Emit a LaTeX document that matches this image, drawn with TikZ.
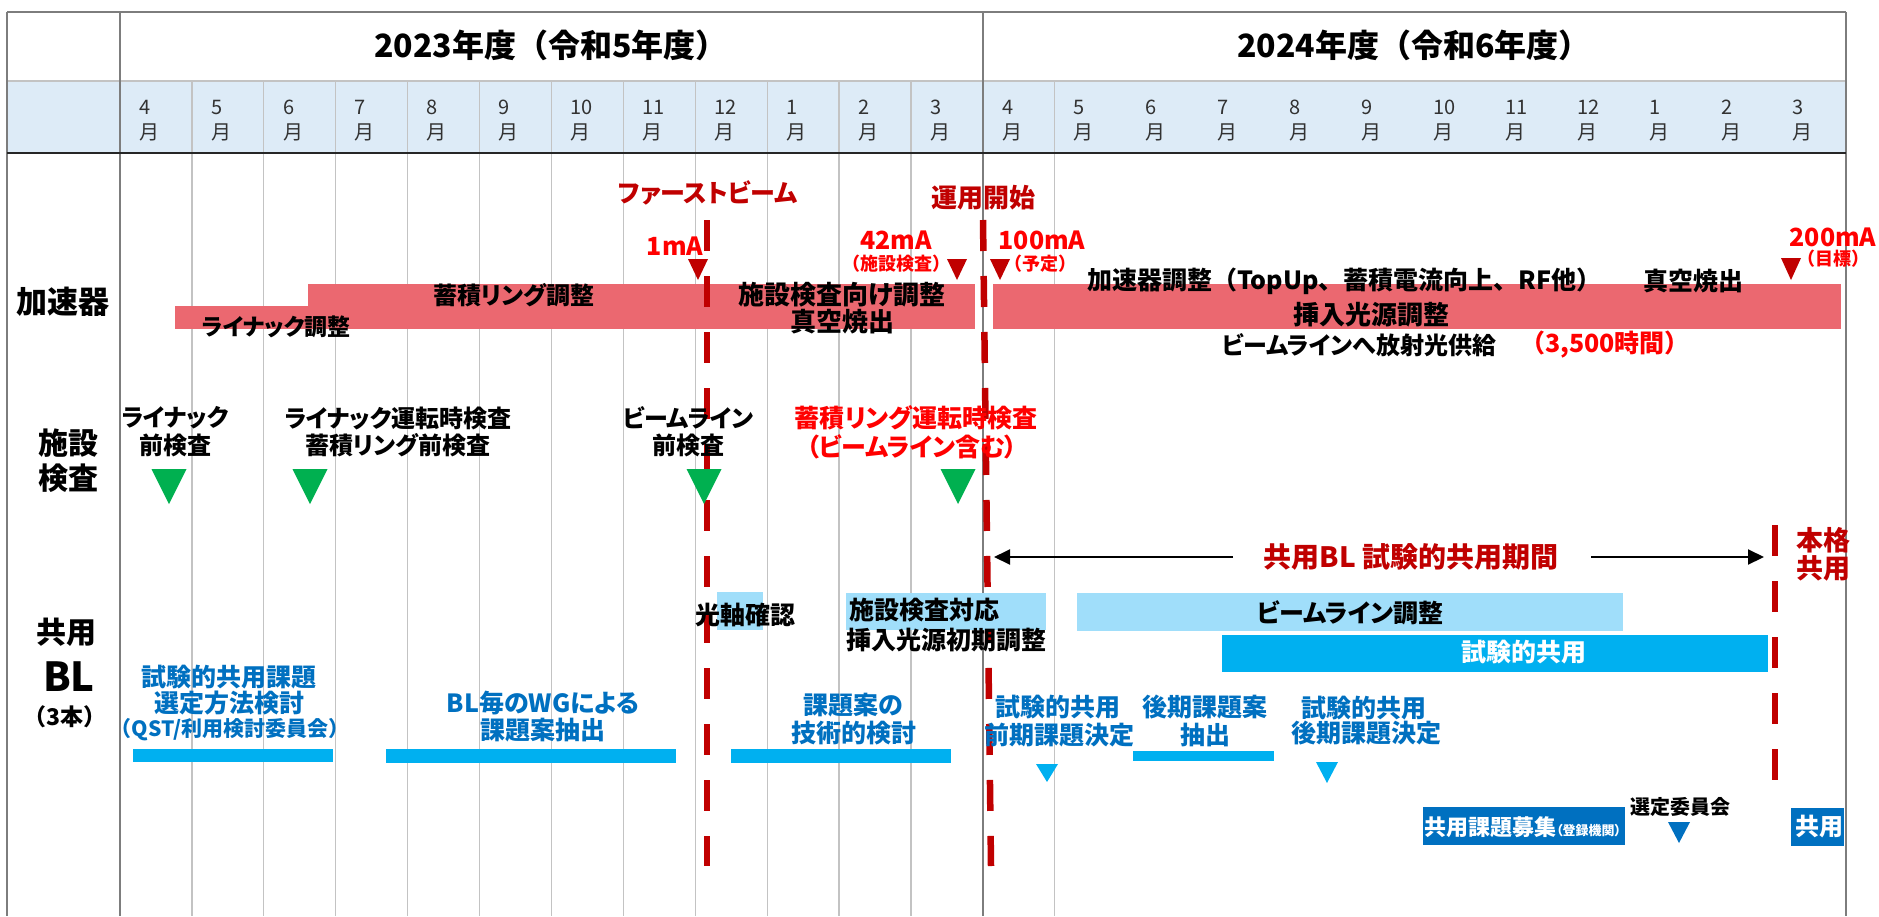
\documentclass[tikz,border=0pt]{standalone}
\usepackage{fontspec}
\setmainfont{Noto Sans CJK JP}[RawFeature=+palt]
\newfontfamily\jpfw{Noto Sans CJK JP}
\usetikzlibrary{arrows.meta}
\definecolor{accpink}{RGB}{235,104,112}
\definecolor{darkred}{RGB}{192,0,0}
\definecolor{brightred}{RGB}{255,0,0}
\definecolor{insgreen}{RGB}{0,176,80}
\definecolor{lightblue}{RGB}{160,222,250}
\definecolor{cyanbar}{RGB}{0,176,240}
\definecolor{darkblue}{RGB}{0,112,192}
\definecolor{monthbg}{RGB}{221,235,247}
\definecolor{gridgray}{RGB}{195,195,195}
\definecolor{framegray}{RGB}{125,125,125}
\definecolor{monthtext}{RGB}{50,50,50}
\newcommand\mktri[5]{\fill[#5] ({#1-#3},#2) -- ({#1+#3},#2) -- (#1,{#2+#4}) -- cycle;}
\tikzset{
  lbl/.style={inner sep=0pt, align=center, font=\fontsize{#1}{#1}\selectfont\bfseries},
  lbl/.default=25,
  fw/.style={inner sep=0pt, align=center, font=\jpfw\fontsize{#1}{#1}\selectfont\bfseries},
  mon/.style={inner sep=0pt, anchor=west, text=monthtext, font=\fontsize{20}{20}\selectfont},
  reddash/.style={darkred, line width=6.5pt, dash pattern=on 31pt off 25pt},
  gridline/.style={gridgray, line width=1.2pt},
  frameline/.style={framegray, line width=1.4pt},
  arrowline/.style={line width=2pt, -{Triangle[length=16pt,width=15pt]}},
}
\begin{document}
\begin{tikzpicture}[x=1pt,y=-1pt]
\useasboundingbox (0,0) rectangle (1879,916);
% ---------- table ----------
\fill[monthbg] (7,81) rectangle (1846,153);
\foreach \i in {1,...,11,13,...,23}{
  \draw[gridline] ({120+71.9*\i},81) -- ({120+71.9*\i},916);
}
\draw[gridline] (7,81) -- (1846,81);
\draw[frameline] (120,12) -- (120,916);
\draw[frameline] (982.8,12) -- (982.8,916);
\draw[frameline] (7,12) -- (7,916);
\draw[frameline] (1846,12) -- (1846,916);
\draw[frameline] (7,12) -- (1846,12);
\draw[black!85, line width=1.6pt] (7,153) -- (1846,153);
\node[fw=32] (y2023) at (551,45) {2023年度（令和5年度）};
\node[fw=32] (y2024) at (1414,45) {2024年度（令和6年度）};
\foreach \m [count=\i from 0] in {4,5,6,7,8,9,10,11,12,1,2,3,4,5,6,7,8,9,10,11,12,1,2,3}{
  \node[mon] (md\i) at ({120+71.9*\i+19},107) {\m};
  \node[mon] (mm\i) at ({120+71.9*\i+19},132) {月};
}
% ---------- accelerator ----------
\node[lbl=31] (acc) at (63,302) {加速器};
\fill[accpink] (175,306) rectangle (308,329);
\fill[accpink] (308,284) rectangle (975,329);
\fill[accpink] (993,284) rectangle (1841,329);
% red dashed milestone lines
\draw[reddash] (707,220) -- (707,866);
\draw[reddash] (983,220) -- (991,866);
\draw[reddash] (1775,525) -- (1775,780);
\node[lbl=24] (ring) at (514,295) {蓄積リング調整};
\node[lbl=23] (linac) at (276,327) {ライナック調整};
\node[lbl=26] (insp1) at (842,295) {施設検査向け調整};
\node[lbl=26] (bake1) at (842,322) {真空焼出};
\node[fw=25, anchor=west] (acctune) at (1087,281) {加速器調整（TopUp、蓄積電流向上、RF他）};
\node[lbl=25] (bake2) at (1693,281) {真空焼出};
\node[lbl=26] (idtune) at (1371,315) {挿入光源調整};
\node[lbl=24, anchor=west] (supply) at (1222,345) {ビームラインへ放射光供給};
\node[fw=25, anchor=west, text=brightred] (hours) at (1520,345) {（3,500時間）};
\node[lbl=25, text=darkred] (first) at (708,193) {ファーストビーム};
\node[lbl=26, text=darkred] (opstart) at (983,198) {運用開始};
\node[lbl=25, text=brightred] (c1) at (675,246) {1mA};
\mktri{698}{259}{10}{21}{darkred}
\node[lbl=25, text=brightred] (c42) at (896,240) {42mA};
\node[fw=18, text=brightred] (c42n) at (896,264) {（施設検査）};
\mktri{957}{259}{10}{21}{darkred}
\node[lbl=25, text=brightred] (c100) at (1042,240) {100mA};
\node[fw=18, text=brightred] (c100n) at (1040,264) {（予定）};
\mktri{1000}{259}{10}{21}{darkred}
\node[lbl=25, text=brightred] (c200) at (1833,237) {200mA};
\node[fw=18, text=brightred] (c200n) at (1833,259) {（目標）};
\mktri{1791}{258}{10}{22}{darkred}
% ---------- facility inspection ----------
\node[lbl=30] (fi1) at (68,443) {施設};
\node[lbl=30] (fi2) at (68,478) {検査};
\node[lbl=24] (l1a) at (175,418) {ライナック};
\node[lbl=24] (l1b) at (175,445) {前検査};
\mktri{169}{469}{17.5}{35}{insgreen}
\node[lbl=24] (l2a) at (398,418) {ライナック運転時検査};
\node[lbl=24] (l2b) at (398,445) {蓄積リング前検査};
\mktri{310}{469}{17.5}{35}{insgreen}
\node[lbl=24] (l3a) at (688,418) {ビームライン};
\node[lbl=24] (l3b) at (688,445) {前検査};
\mktri{704}{469}{17.5}{35}{insgreen}
\node[lbl=25, text=brightred] (l4a) at (916,418) {蓄積リング運転時検査};
\node[lbl=25, text=brightred] (l4b) at (912,447) {（ビームライン含む）};
\mktri{958}{469}{17.5}{35}{insgreen}
% ---------- shared beamlines ----------
\node[lbl=30] (bl1) at (66,632) {共用};
\node[lbl=40] (bl2) at (69,677) {BL};
\node[fw=23] (bl3) at (65,717) {（3本）};
\node[lbl=28, text=darkred] (period) at (1411,557) {共用BL 試験的共用期間};
\coordinate (gapL) at (1233,557);
\coordinate (gapR) at (1591,557);
\coordinate (arrL) at (994,557);
\coordinate (arrR) at (1764,557);
\draw[arrowline] (gapL) -- (arrL);
\draw[arrowline] (gapR) -- (arrR);
\node[lbl=27, text=darkred] (full1) at (1823,540) {本格};
\node[lbl=27, text=darkred] (full2) at (1823,568) {共用};
\fill[lightblue] (717,592) rectangle (763,630);
\node[lbl=25] (axis) at (745,615) {光軸確認};
\fill[lightblue] (846,593) rectangle (1046,630);
\node[lbl=25, anchor=west] (fic) at (849,610) {施設検査対応};
\node[lbl=25, anchor=west] (idinit) at (846,640) {挿入光源初期調整};
\fill[lightblue] (1077,593) rectangle (1623,631);
\node[lbl=25] (bltune) at (1350,613) {ビームライン調整};
\fill[cyanbar] (1222,635) rectangle (1768,672);
\node[lbl=25, text=white] (trial) at (1524,652) {試験的共用};
% blue planning texts
\node[lbl=25, text=darkblue] (p1a) at (229,677) {試験的共用課題};
\node[lbl=25, text=darkblue] (p1b) at (229,703) {選定方法検討};
\node[fw=21, text=darkblue] (p1c) at (230,730) {（QST/利用検討委員会）};
\fill[cyanbar] (133,749) rectangle (333,762);
\node[lbl=25, text=darkblue] (p2a) at (543,703) {BL毎のWGによる};
\node[lbl=25, text=darkblue] (p2b) at (543,730) {課題案抽出};
\fill[cyanbar] (386,749) rectangle (676,763);
\node[lbl=25, text=darkblue] (p3a) at (853,705) {課題案の};
\node[lbl=25, text=darkblue] (p3b) at (854,733) {技術的検討};
\fill[cyanbar] (731,749) rectangle (951,763);
\node[lbl=25, text=darkblue] (p4a) at (1058,707) {試験的共用};
\node[lbl=25, text=darkblue] (p4b) at (1059,735) {前期課題決定};
\mktri{1047}{764}{11}{18}{cyanbar}
\node[lbl=25, text=darkblue] (p5a) at (1205,707) {後期課題案};
\node[lbl=25, text=darkblue] (p5b) at (1205,735) {抽出};
\fill[cyanbar] (1133,751) rectangle (1274,761);
\node[lbl=25, text=darkblue] (p6a) at (1364,708) {試験的共用};
\node[lbl=25, text=darkblue] (p6b) at (1366,733) {後期課題決定};
\mktri{1327}{762}{11}{21}{cyanbar}
\fill[darkblue] (1423,807) rectangle (1625,845);
\node[lbl=22, text=white, anchor=west] (call) at (1424,827) {共用課題募集\fontsize{13}{13}\selectfont（登録機関）};
\node[lbl=20] (comm) at (1680,807) {選定委員会};
\mktri{1679}{822}{11}{21}{darkblue}
\fill[darkblue] (1791,808) rectangle (1844,846);
\node[lbl=24, text=white, anchor=west] (share) at (1795,827) {共用};
\end{tikzpicture}
\end{document}
